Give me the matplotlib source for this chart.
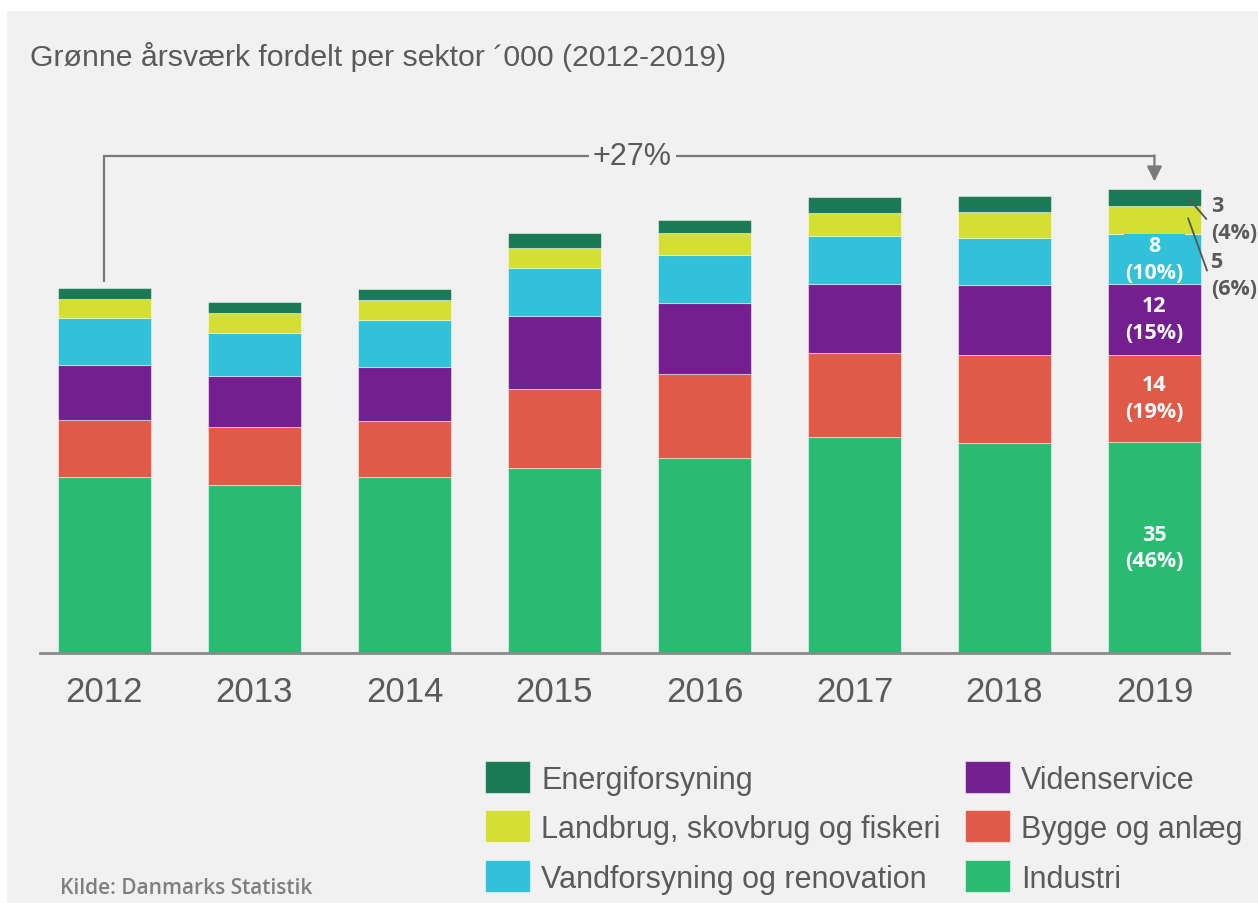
import numpy as np
import matplotlib
matplotlib.use('Agg')
import matplotlib.pyplot as plt
from matplotlib.patches import Rectangle
from matplotlib import font_manager

# Data ('000 årsværk)
years = ['2012', '2013', '2014', '2015', '2016', '2017', '2018', '2019']
industri = [29.2, 27.9, 29.2, 30.6, 32.3, 35.9, 34.9, 35.0]
bygge = [9.5, 9.5, 9.3, 13.2, 13.9, 13.9, 14.6, 14.5]
viden = [9.0, 8.6, 9.0, 12.1, 11.8, 11.4, 11.5, 11.7]
vand = [7.9, 7.1, 7.7, 8.0, 8.0, 7.9, 7.8, 8.3]
landbrug = [3.1, 3.3, 3.3, 3.3, 3.6, 3.8, 4.3, 4.7]
energi = [1.8, 1.8, 1.9, 2.4, 2.2, 2.8, 2.7, 2.8]

labels_2019 = ['35\n(46%)', '14\n(19%)', '12\n(15%)', '8\n(10%)', '5\n(6%)', '3\n(4%)']
growth_label = '+27%'

sectors = ['Industri', 'Bygge og anlæg', 'Videnservice',
           'Vandforsyning og renovation', 'Landbrug, skovbrug og fiskeri', 'Energiforsyning']
colors = ['#2abb73', '#e05a47', '#741f8f', '#31c1d8', '#d4df33', '#1a7a55']

BG = '#f1f1f1'
GREY = '#5a5a5a'


def pick_font(names):
    available = {f.name for f in font_manager.fontManager.ttflist}
    for n in names:
        if n in available:
            return n
    return 'DejaVu Sans'


narrow = pick_font(['Liberation Sans Narrow', 'Liberation Sans', 'Roboto'])
plain = pick_font(['Open Sans', 'Noto Sans', 'DejaVu Sans'])

fig = plt.figure(figsize=(12.58, 9.04), dpi=100)
fig.patch.set_facecolor('white')
W, H = 1258, 904

# grå baggrund (hvid kant øverst og til venstre)
fig.patches.append(Rectangle((7 / W, 0), 1 - 7 / W, 1 - 12 / H, transform=fig.transFigure,
                             facecolor=BG, edgecolor='none', zorder=-10))

ax = fig.add_axes([40 / W, 1 - 654 / H, 1189 / W, 554 / H])
ax.set_facecolor('none')

x = np.arange(len(years))
series = [industri, bygge, viden, vand, landbrug, energi]
bottom = np.zeros(len(years))
for vals, col in zip(series, colors):
    ax.bar(x, vals, bottom=bottom, width=0.62, color=col,
           edgecolor=(1, 1, 1, 0.45), linewidth=0.8, zorder=3)
    bottom = bottom + np.array(vals)
totals = bottom

ax.set_xlim(-0.43, 7.497)
ax.set_ylim(0, 554 / 6.03)

for s in ['top', 'right', 'left']:
    ax.spines[s].set_visible(False)
ax.spines['bottom'].set_color('#8a8a8a')
ax.spines['bottom'].set_linewidth(2)
ax.spines['bottom'].set_zorder(4)
ax.set_yticks([])
ax.set_xticks(x)
ax.set_xticklabels(years, fontsize=25, color=GREY, family=narrow)
ax.tick_params(axis='x', length=0, pad=16)

# etiketter i 2019-søjlen
cum = 0
i = 7
for k, (vals, col) in enumerate(zip(series, colors)):
    v = vals[i]
    mid = cum + v / 2
    if k < 4:
        ax.text(i, mid, labels_2019[k], ha='center', va='center', color='white',
                fontsize=15.5, fontweight='bold', family=plain, linespacing=1.35, zorder=6,
                bbox=dict(boxstyle='square,pad=0.05', facecolor=col, edgecolor='none'))
    cum += v

# små segmenter: tekst udenfor søjlen med streg
top19 = totals[7]
e_mid = top19 - energi[7] / 2
l_mid = top19 - energi[7] - landbrug[7] / 2
ax.plot([7.23, 7.345], [e_mid - 0.3, e_mid - 3.6], color='#555555', lw=1.3, zorder=6, clip_on=False)
ax.plot([7.225, 7.35], [l_mid + 0.2, l_mid - 8.4], color='#555555', lw=1.3, zorder=6, clip_on=False)
ax.text(7.375, e_mid - 3.6, labels_2019[5], ha='left', va='center', color=GREY,
        fontsize=15.5, fontweight='bold', family=plain, linespacing=1.35, clip_on=False)
ax.text(7.375, l_mid - 9.2, labels_2019[4], ha='left', va='center', color=GREY,
        fontsize=15.5, fontweight='bold', family=plain, linespacing=1.35, clip_on=False)

# +27% pil
yb = 82.4
ax.plot([0, 0, 7], [totals[0] + 1.2, yb, yb], color='#7a7a7a', lw=1.6, zorder=5,
        solid_joinstyle='miter', clip_on=False)
ax.annotate('', xy=(7, totals[7] + 1.2), xytext=(7, yb + 0.13),
            arrowprops=dict(arrowstyle='-|>,head_length=0.9,head_width=0.45',
                            color='#7a7a7a', lw=1.6, shrinkA=0, shrinkB=0))
ax.text(3.52, yb, growth_label, ha='center', va='center', fontsize=22, color=GREY,
        family=narrow, zorder=6,
        bbox=dict(boxstyle='square,pad=0.12', facecolor=BG, edgecolor='none'))

# titel og kilde
fig.text(30 / W, 1 - 57 / H, 'Grønne årsværk fordelt per sektor ´000 (2012-2019)',
         ha='left', va='center', fontsize=21.8, color=GREY, family=narrow)
fig.text(60 / W, 1 - 889 / H, 'Kilde: Danmarks Statistik', ha='left', va='center',
         fontsize=15, color='#7f7f7f', family=plain, fontweight='semibold')

# legende
leg_items = [('Energiforsyning', '#1a7a55', 485, 778), ('Landbrug, skovbrug og fiskeri', '#d4df33', 485, 827),
             ('Vandforsyning og renovation', '#31c1d8', 485, 877), ('Videnservice', '#741f8f', 965, 778),
             ('Bygge og anlæg', '#e05a47', 965, 827), ('Industri', '#2abb73', 965, 877)]
for name, col, lx, ly in leg_items:
    fig.patches.append(Rectangle((lx / W, 1 - (ly + 16) / H), 45 / W, 32 / H, transform=fig.transFigure,
                                 facecolor=col, edgecolor=(1, 1, 1, 0.5), linewidth=0.8))
    fig.text((lx + 56) / W, 1 - (ly + 3) / H, name, ha='left', va='center', fontsize=22,
             color=GREY, family=narrow)

fig.savefig('out.png', dpi=100, facecolor=fig.get_facecolor())
